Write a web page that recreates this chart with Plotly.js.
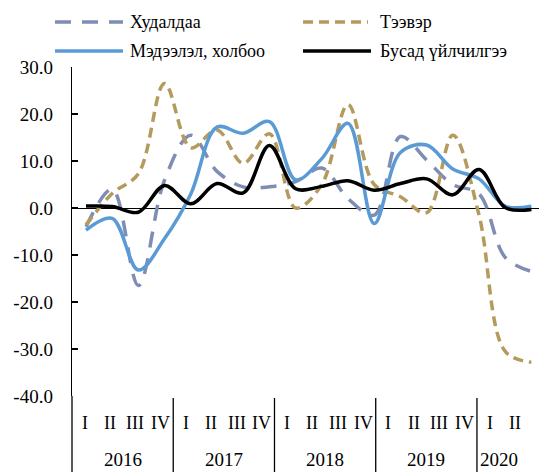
<!DOCTYPE html>
<html>
<head>
<meta charset="utf-8">
<script src="https://cdn.plot.ly/plotly-3.0.1.min.js"></script>
<style>html,body{margin:0;padding:0;background:#fff;}#chart{width:539px;height:472px;}</style>
</head>
<body>
<div id="chart"></div>
<script>
// ---- data ----
const years = ["2016", "2017", "2018", "2019", "2020"];
const quarterNames = ["I", "II", "III", "IV"];
const quartersPerYear = [4, 4, 4, 4, 2];
const seriesNames = ["Худалдаа", "Тээвэр", "Мэдээлэл, холбоо", "Бусад үйлчилгээ"];
const trade = [-4.0, 4.0, -16.5, 6.0, 15.5, 7.8, 4.5, 4.5, 5.6, 8.5, 2.0, -1.5, 15.2, 10.2, 5.0, 3.0, -10.5, -13.5];
const transport = [-3.6, 3.1, 7.3, 26.5, 12.8, 16.6, 9.5, 15.8, 0.0, 5.0, 22.0, 5.0, 2.4, -1.0, 15.5, -1.5, -30.5, -32.8];
const ict = [-4.7, -2.2, -13.2, -6.5, 3.0, 17.2, 15.9, 18.4, 6.0, 10.5, 18.0, -3.3, 11.8, 13.4, 8.3, 6.2, 0.4, 0.4];
const other = [0.4, 0.3, -0.9, 4.8, 0.9, 5.2, 3.2, 13.3, 4.1, 4.6, 5.8, 3.8, 5.2, 6.2, 2.8, 8.2, 0.1, -0.3];
const yTicks = [30, 20, 10, 0, -10, -20, -30, -40];

// ---- geometry ----
const W = 539, H = 472, L = 72, R = 0, T = 67, B = 396;
const plotW = W - L - R, plotH = B - T;
const firstPx = 86, stepPx = 26.2;
const slotPx = 25.31;
const px2x = p => (p - L) / plotW;
const py2y = p => (B - p) / plotH;
const FONT = "Liberation Serif";

const idx = trade.map((_, i) => i);
const colors = ["#7f8db4", "#b59a5e", "#5b9bd5", "#000000"];
const dashes = ["16px,11px", "10px,6px", "solid", "solid"];
const values = [trade, transport, ict, other];

const traces = values.map((v, k) => ({
  x: idx, y: v, name: seriesNames[k], type: "scatter", mode: "lines",
  line: {color: colors[k], width: 3.5, dash: dashes[k], shape: "spline", smoothing: 1},
  showlegend: false, hoverinfo: "skip"
}));

const shapes = [];
const annotations = [];

// custom legend
const legendItems = [
  {k: 0, x0: 55, x1: 123, y: 22, tx: 128},
  {k: 1, x0: 303, x1: 368, y: 22, tx: 378},
  {k: 2, x0: 55, x1: 123, y: 51, tx: 128},
  {k: 3, x0: 303, x1: 371, y: 51, tx: 378}
];
legendItems.forEach(it => {
  shapes.push({type: "line", xref: "paper", yref: "paper",
    x0: px2x(it.x0), x1: px2x(it.x1), y0: py2y(it.y), y1: py2y(it.y),
    line: {color: colors[it.k], width: 3.5, dash: dashes[it.k]}});
  annotations.push({xref: "paper", yref: "paper", x: px2x(it.tx), y: py2y(it.y),
    xanchor: "left", yanchor: "middle", showarrow: false, text: seriesNames[it.k],
    font: {family: FONT, size: 18, color: "#000"}});
});

// category labels (two-level)
let slot = 0;
years.forEach((yr, yi) => {
  const n = quartersPerYear[yi];
  for (let q = 0; q < n; q++) {
    annotations.push({xref: "paper", yref: "paper", x: px2x(L + (slot + q + 0.5) * slotPx), y: py2y(423),
      xanchor: "center", yanchor: "middle", showarrow: false, text: quarterNames[q],
      font: {family: FONT, size: 18, color: "#000"}});
  }
  const cx = yi === years.length - 1 ? L + (slot) * slotPx + 22 : L + (slot + n / 2) * slotPx;
  annotations.push({xref: "paper", yref: "paper", x: px2x(cx), y: py2y(459),
    xanchor: "center", yanchor: "middle", showarrow: false, text: yr,
    font: {family: FONT, size: 19, color: "#000"}});
  slot += n;
  if (yi < years.length - 1) {
    shapes.push({type: "line", xref: "paper", yref: "paper",
      x0: px2x(L + slot * slotPx), x1: px2x(L + slot * slotPx), y0: py2y(398), y1: py2y(H),
      line: {color: "#000", width: 1.3}});
  }
});
// left axis line extension through label area
shapes.push({type: "line", xref: "paper", yref: "paper", x0: 0, x1: 0, y0: 0, y1: py2y(H),
  line: {color: "#000", width: 1.3}});

const r0 = -(firstPx - L) / stepPx;
const layout = {
  width: W, height: H,
  margin: {l: L, r: R, t: T, b: H - B, pad: 0},
  paper_bgcolor: "#fff", plot_bgcolor: "#fff",
  showlegend: false,
  font: {family: FONT},
  xaxis: {range: [r0, r0 + plotW / stepPx], showticklabels: false, showgrid: false,
    zeroline: false, showline: false, ticks: "", fixedrange: true},
  yaxis: {range: [-40, 30], tickvals: yTicks, ticktext: yTicks.map(v => v.toFixed(1)),
    showgrid: false, zeroline: true, zerolinecolor: "#000", zerolinewidth: 1,
    showline: true, linecolor: "#000", linewidth: 1.3, ticks: "inside", ticklen: 6,
    tickcolor: "#000", tickwidth: 1.3, ticklabelstandoff: 14,
    tickfont: {family: FONT, size: 19, color: "#000"}, fixedrange: true},
  shapes: shapes,
  annotations: annotations
};

Plotly.newPlot("chart", traces, layout, {staticPlot: true, displayModeBar: false});
</script>
</body>
</html>
